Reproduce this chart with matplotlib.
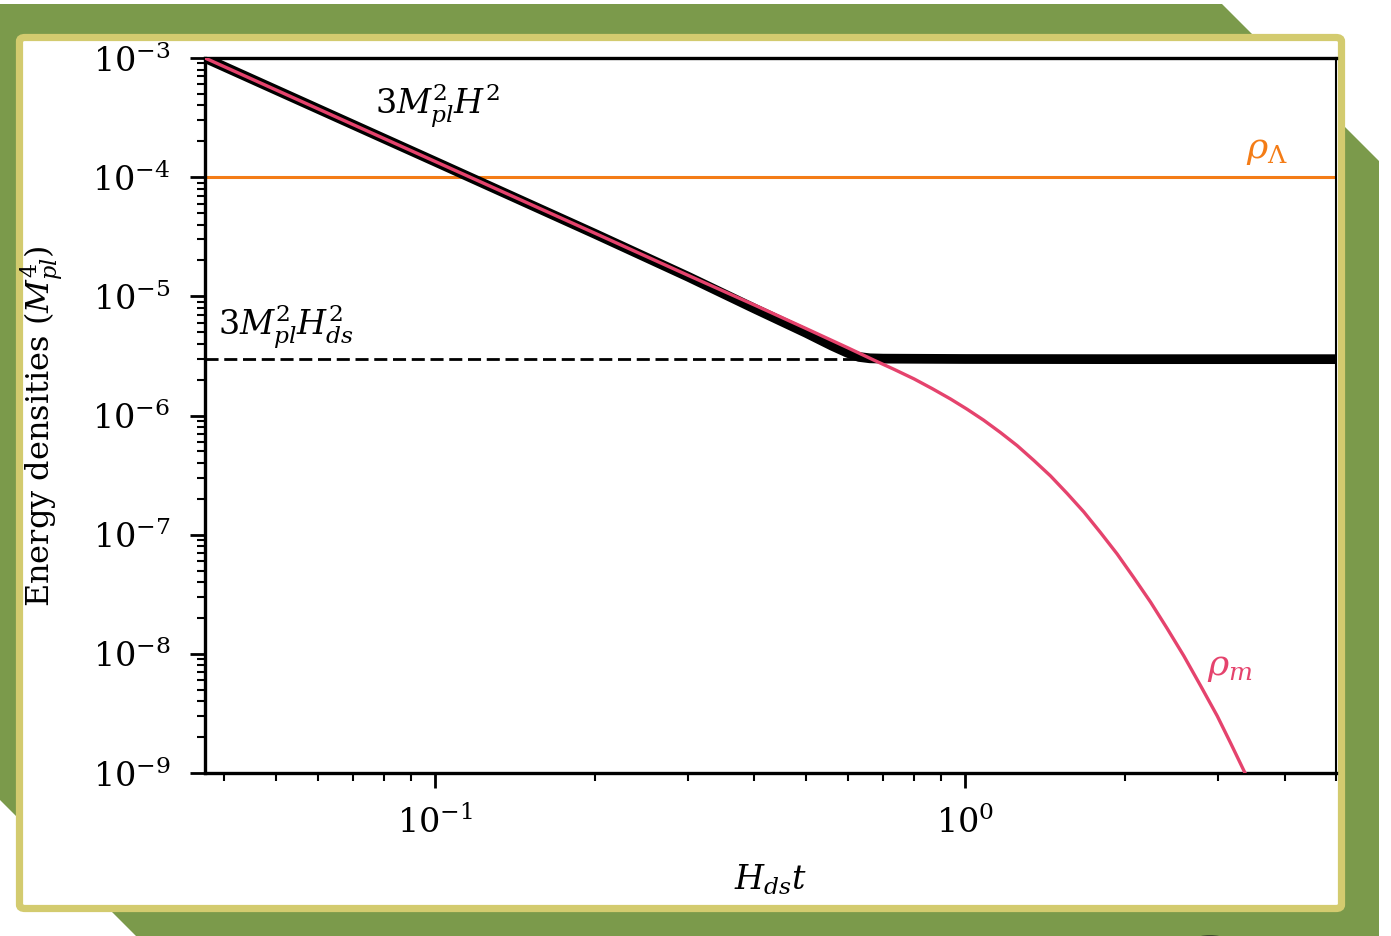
import matplotlib
matplotlib.use("Agg")
import matplotlib.pyplot as plt
from matplotlib.patches import Polygon, FancyBboxPatch, Ellipse
from matplotlib.ticker import LogLocator, NullFormatter

plt.rcParams['font.family'] = ['DejaVu Serif']
plt.rcParams['mathtext.fontset'] = 'dejavuserif'
plt.rcParams['lines.scale_dashes'] = False

# ---- data ----
x_lim = [0.0368, 5.0]
y_lim = [1e-9, 1e-3]

# rho_m (pink)
rho_m_x = [0.0368, 0.06, 0.1, 0.2, 0.3, 0.4, 0.5, 0.6, 0.6713, 0.7327, 0.800,
           0.8657, 0.9369, 1.0074, 1.0827, 1.1643, 1.2520, 1.3456, 1.4469,
           1.5557, 1.6722, 1.7978, 1.9331, 2.0775, 2.2340, 2.4022, 2.5820,
           2.7760, 2.9853, 3.1623, 3.3503, 3.390]
rho_m_y = [1e-3, 3.76e-4, 1.354e-4, 3.39e-5, 1.50e-5, 8.46e-6, 5.38e-6,
           3.70e-6, 2.922e-6, 2.446e-6, 2.029e-6, 1.681e-6, 1.378e-6, 1.129e-6,
           9.13e-7, 7.20e-7, 5.59e-7, 4.204e-7, 3.113e-7, 2.216e-7, 1.553e-7,
           1.042e-7, 6.88e-8, 4.363e-8, 2.723e-8, 1.630e-8, 9.61e-9, 5.415e-9,
           3.01e-9, 1.790e-9, 1.050e-9, 9.44e-10]

# 3 M_pl^2 H^2 (black)
h2_x = [0.0368, 0.1, 0.2, 0.3, 0.4, 0.5, 0.56, 0.6, 0.63, 0.66, 0.7, 1.0, 2.0, 5.0]
h2_y = [1e-3, 1.35e-4, 3.35e-5, 1.46e-5, 7.9e-6, 4.95e-6, 3.85e-6, 3.35e-6,
        3.1e-6, 3.02e-6, 3.0e-6, 2.98e-6, 2.97e-6, 2.97e-6]

# 3 M_pl^2 H_ds^2 (dashed) and rho_Lambda (orange)
hds_level = 3.0e-6
hds_x = [0.0368, 0.64]
rho_lambda = 1e-4

W, H = 1391, 936
fig = plt.figure(figsize=(W / 100, H / 100), dpi=100)
fig.patch.set_facecolor('white')

def fx(px):
    return px / W

def fy(py):
    return 1 - py / H

green = '#7b9a4b'
yellow = '#d3cb6f'
# green chamfered background
gpts = [(0, 4), (1222, 4), (1379, 161), (1379, 960), (160, 960), (0, 800)]
fig.patches.append(Polygon([(fx(a), fy(b)) for a, b in gpts], closed=True,
                           transform=fig.transFigure, facecolor=green,
                           edgecolor='none', zorder=0))
fig.patches.append(Ellipse((fx(1210), fy(949)), 50 / W, 28 / H,
                           transform=fig.transFigure, facecolor='#3d4a2c',
                           edgecolor='none', zorder=0.5))
# white panel with yellow border
fig.patches.append(FancyBboxPatch((fx(19.5), fy(908.5)), (1341.5 - 19.5) / W,
                                  (908.5 - 37.5) / H,
                                  boxstyle='round,pad=0,rounding_size=0.004',
                                  transform=fig.transFigure, facecolor='white',
                                  edgecolor=yellow, linewidth=5.2, zorder=1))

ax = fig.add_axes([205 / W, 1 - 773 / H, (1336 - 205) / W, (773 - 58) / H])
ax.set_zorder(2)
ax.set_xscale('log')
ax.set_yscale('log')
ax.set_xlim(x_lim)
ax.set_ylim(y_lim)

orange = '#f47c16'
pink = '#e5436d'

ax.axhline(rho_lambda, color=orange, lw=2.2, zorder=2)
ax.plot(hds_x, [hds_level, hds_level], color='black', lw=2.0,
        dashes=(9.4, 4.1), zorder=2)
ax.plot(h2_x, h2_y, color='black', lw=7.0, solid_capstyle='butt',
        solid_joinstyle='round', zorder=3)
ax.plot(rho_m_x, rho_m_y, color=pink, lw=2.4, solid_joinstyle='round', zorder=4)

ax.text(0.1008, 4.0e-4, r'$3M_{pl}^2H^2$', fontsize=24, ha='center', va='center')
ax.text(0.0524, 5.5e-6, r'$3M_{pl}^2H_{ds}^2$', fontsize=24, ha='center', va='center')
ax.text(3.71, 1.69e-4, r'$\rho_\Lambda$', fontsize=26, ha='center', va='center',
        color=orange)
ax.text(3.16, 7.8e-9, r'$\rho_m$', fontsize=26, ha='center', va='center', color=pink)

for side in ['left', 'bottom', 'top']:
    ax.spines[side].set_linewidth(2.4)
ax.spines['right'].set_linewidth(1.5)

ax.xaxis.set_major_locator(LogLocator(base=10, numticks=20))
ax.xaxis.set_minor_locator(LogLocator(base=10, subs=range(2, 10), numticks=20))
ax.xaxis.set_minor_formatter(NullFormatter())
ax.yaxis.set_major_locator(LogLocator(base=10, numticks=20))
ax.yaxis.set_minor_locator(LogLocator(base=10, subs=range(2, 10), numticks=20))
ax.yaxis.set_minor_formatter(NullFormatter())

ax.tick_params(which='major', length=11, width=2.0, labelsize=24, direction='out')
ax.tick_params(which='minor', length=6, width=1.5, direction='out')
ax.tick_params(axis='y', which='major', pad=14)
ax.tick_params(axis='x', which='major', pad=13)

ax.set_ylabel(r'Energy densities $(M_{pl}^4)$', fontsize=23)
ax.yaxis.set_label_coords(-0.123, 0.485)
ax.set_xlabel(r'$H_{ds}t$', fontsize=24)
ax.xaxis.set_label_coords(0.5, -0.126)
ax.xaxis.label.set_va('top')

fig.savefig('out.png', dpi=100, facecolor='white')
